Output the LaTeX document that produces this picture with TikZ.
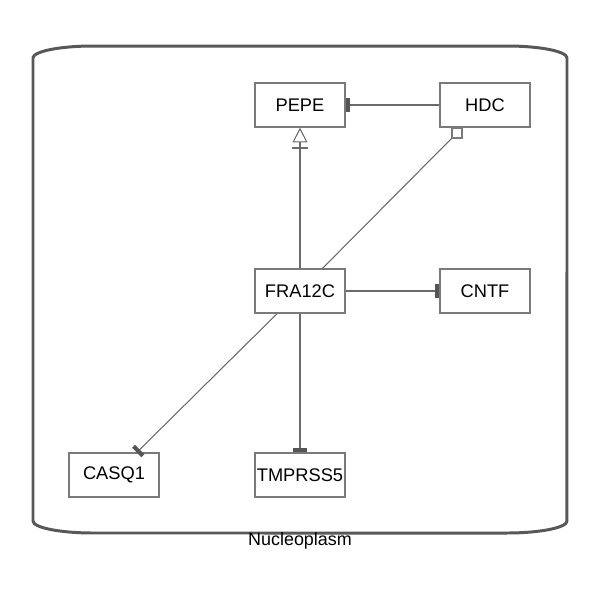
\documentclass[tikz,border=0pt]{standalone}
\usepackage{fontspec}
\setmainfont{Liberation Sans}
\usetikzlibrary{arrows.meta}

\definecolor{boxgray}{HTML}{7A7A7A}
\definecolor{linkgray}{HTML}{6A6A6A}
\definecolor{teegray}{HTML}{555555}
\definecolor{compgray}{HTML}{585858}

\tikzset{
	gene/.style={draw=boxgray, line width=0.6pt, fill=white, minimum width=1.8cm, minimum height=0.88cm, inner sep=0pt, font=\fontsize{10.4}{12}\selectfont},
	port/.style={draw=boxgray, line width=0.6pt, fill=white, minimum size=0.2cm, inner sep=0pt},
	link/.style={draw=linkgray, line width=0.6pt},
	inhib/.style={link, -{Rectangle[length=2.4pt,width=7.5pt,fill=teegray,color=teegray]}},
	needed/.style={link, -{Bar[width=9pt,line width=1.2pt,sep=2.3pt] Triangle[open,length=8.5pt,width=8.5pt,fill=white]}}
}

\begin{document}
\begin{tikzpicture}[x=0.02cm, y=-0.02cm]
	\useasboundingbox (0,0) rectangle (600,600);

	% compartment
	\draw[compgray, line width=1.7pt] (33,58) -- (33,521)
		arc[start angle=180, end angle=270, x radius=1.2cm, y radius=0.24cm] -- (507,533)
		arc[start angle=270, end angle=360, x radius=1.2cm, y radius=0.24cm] -- (567,58)
		arc[start angle=0, end angle=90, x radius=1.2cm, y radius=0.24cm] -- (93,46)
		arc[start angle=90, end angle=180, x radius=1.2cm, y radius=0.24cm] -- cycle;
	\node[font=\fontsize{10.2}{12}\selectfont] (nucleo) at (300,541) {Nucleoplasm};

	\node[gene] (pepe) at (300,105) {PEPE};
	\node[gene] (hdc) at (485,105) {HDC};
	\node[gene] (fra) at (300,291) {FRA12C};
	\node[gene] (cntf) at (485,291) {CNTF};
	\node[gene] (casq) at (114,475) {CASQ1};
	\node[gene] (tmp) at (300,475) {TMPRSS5};
	\node[port] (hdcport) at (457,133) {};

	\draw[inhib] (hdc) -- (pepe);
	\draw[needed] (fra) -- (pepe);
	\draw[link] (fra) -- (hdcport);
	\draw[inhib] (fra) -- (cntf);
	\draw[inhib] (fra) -- (casq);
	\draw[inhib] (fra) -- (tmp);
\end{tikzpicture}
\end{document}
